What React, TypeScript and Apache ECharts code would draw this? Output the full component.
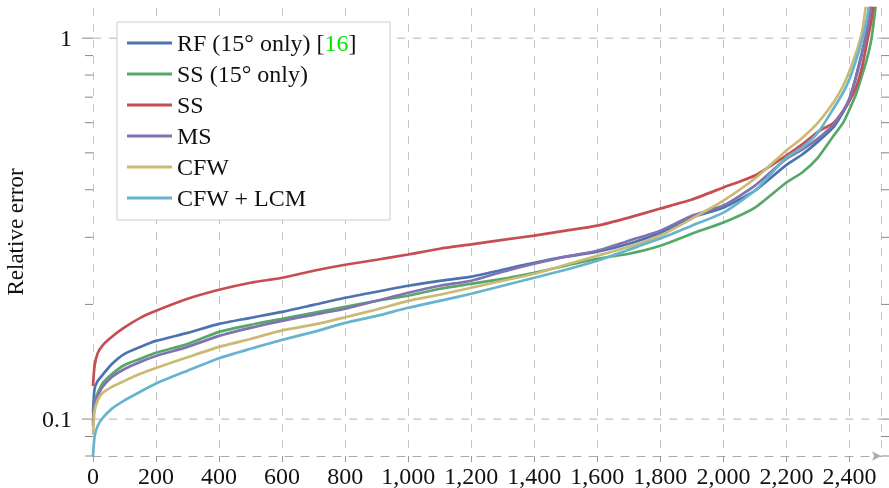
import React, { useEffect, useRef } from 'react';
import * as echarts from 'echarts';

// sample index (sorted test cases)
const xs = [0, 5, 15, 30, 60, 100, 150, 200, 300, 400, 500, 600, 700, 800, 900, 1000, 1100, 1200, 1300, 1400, 1500, 1600, 1700, 1800, 1900, 2000, 2100, 2200, 2250, 2300, 2350, 2380, 2400, 2420, 2440, 2455, 2470, 2485, 2500];

const rf15 = [0.104, 0.12, 0.126, 0.1305, 0.1395, 0.1483, 0.1547, 0.1604, 0.1684, 0.1778, 0.1844, 0.1912, 0.1995, 0.2082, 0.2159, 0.2239, 0.2307, 0.2365, 0.2467, 0.2573, 0.2669, 0.2751, 0.2887, 0.3086, 0.338, 0.359, 0.398, 0.465, 0.495, 0.535, 0.585, 0.64, 0.69, 0.79, 0.92, 1.04, 1.25, 1.55, 2.0];
const ss15 = [0.098, 0.111, 0.117, 0.124, 0.1313, 0.1387, 0.1439, 0.1493, 0.1575, 0.1694, 0.1768, 0.1833, 0.19, 0.1972, 0.2044, 0.2107, 0.2198, 0.2266, 0.2335, 0.2422, 0.2527, 0.2636, 0.2717, 0.2852, 0.3067, 0.328, 0.359, 0.418, 0.444, 0.486, 0.555, 0.6, 0.65, 0.71, 0.8, 0.88, 1.0, 1.25, 1.6];
const ss = [0.122, 0.138, 0.149, 0.156, 0.1645, 0.174, 0.1844, 0.1924, 0.2069, 0.2185, 0.228, 0.235, 0.2452, 0.2542, 0.262, 0.2705, 0.28, 0.2875, 0.2955, 0.303, 0.3124, 0.322, 0.338, 0.357, 0.377, 0.4055, 0.436, 0.492, 0.526, 0.568, 0.6, 0.645, 0.685, 0.74, 0.84, 0.97, 1.12, 1.4, 1.9];
const ms = [0.096, 0.11, 0.115, 0.1214, 0.129, 0.1354, 0.1413, 0.1465, 0.1547, 0.1654, 0.1736, 0.1811, 0.1878, 0.1948, 0.2044, 0.2146, 0.2239, 0.2307, 0.2437, 0.2557, 0.2669, 0.2767, 0.294, 0.3124, 0.342, 0.3635, 0.41, 0.483, 0.51, 0.545, 0.595, 0.645, 0.695, 0.785, 0.91, 1.04, 1.25, 1.55, 2.0];
const cfw = [0.091, 0.105, 0.112, 0.117, 0.1215, 0.126, 0.1315, 0.1362, 0.1453, 0.1547, 0.1623, 0.171, 0.177, 0.185, 0.194, 0.2044, 0.212, 0.2212, 0.2307, 0.2407, 0.2542, 0.2685, 0.2835, 0.303, 0.336, 0.3746, 0.428, 0.507, 0.547, 0.6, 0.68, 0.75, 0.82, 0.91, 1.04, 1.27, 1.6, 2.0, 2.5];
const cfwLcm = [0.08, 0.09, 0.096, 0.1005, 0.1065, 0.112, 0.118, 0.124, 0.134, 0.1445, 0.153, 0.1614, 0.1694, 0.1789, 0.1866, 0.196, 0.2044, 0.2133, 0.2239, 0.235, 0.2467, 0.2605, 0.2784, 0.2977, 0.322, 0.3483, 0.398, 0.486, 0.5166, 0.565, 0.655, 0.72, 0.78, 0.87, 0.99, 1.12, 1.35, 1.7, 2.1];

const seriesNames = ['RF (15° only) [16]', 'SS (15° only)', 'SS', 'MS', 'CFW', 'CFW + LCM'];
const seriesValues = [rf15, ss15, ss, ms, cfw, cfwLcm];
const seriesColors = ['#4c72b0', '#55a868', '#c44e52', '#8172b2', '#ccb974', '#64b5cd'];

const X_MIN = 0;
const X_MAX = 2500;
const X_INTERVAL = 200;
const Y_MIN = 0.08;
const Y_MAX = 1.2;
const yMajorTicks = [0.1, 1];
const yMinorTicks = [0.08, 0.09, 0.2, 0.3, 0.4, 0.5, 0.6, 0.7, 0.8, 0.9];

const FONT = "'Liberation Serif', 'Times New Roman', serif";

export default function App() {
  const ref = useRef<HTMLDivElement>(null);
  useEffect(() => {
    if (!ref.current) return;
    const chart = echarts.init(ref.current, undefined, { renderer: 'svg' });

    const lineSeries = seriesNames.map((name, i) => ({
      name,
      type: 'line',
      data: xs.map((x, j) => [x, seriesValues[i][j]]),
      showSymbol: false,
      symbol: 'none',
      smooth: 0.2,
      z: 2,
      lineStyle: { color: seriesColors[i], width: 2.7 },
      itemStyle: { color: seriesColors[i] },
    }));

    const tickData = [
      ...yMajorTicks.map((v) => [X_MIN, v, 1]),
      ...yMinorTicks.map((v) => [X_MIN, v, 0]),
    ];

    const option: any = {
      animation: false,
      grid: { left: 93, right: 8, top: 8, bottom: 32, containLabel: false, outerBoundsMode: 'none' },
      xAxis: {
        type: 'value',
        min: X_MIN,
        max: X_MAX,
        interval: X_INTERVAL,
        axisLine: {
          show: true,
          symbol: ['none', 'arrow'],
          symbolSize: [7, 9],
          lineStyle: { color: '#aaaaaa', type: [8, 8], width: 1 },
        },
        axisTick: { show: true, length: 6, lineStyle: { color: '#999999' } },
        axisLabel: {
          color: '#111',
          fontFamily: FONT,
          fontSize: 24,
          lineHeight: 22,
          margin: 9,
          showMaxLabel: false,
          formatter: (v: number) => String(v).replace(/\B(?=(\d{3})+(?!\d))/g, ','),
        },
        splitLine: { show: true, lineStyle: { color: '#c4c4c4', type: [8, 8], width: 1 } },
      },
      yAxis: {
        type: 'log',
        logBase: 10,
        min: Y_MIN,
        max: Y_MAX,
        axisLine: { show: false },
        axisTick: { show: false },
        splitLine: { show: false },
        axisLabel: {
          color: '#111',
          fontFamily: FONT,
          fontSize: 24,
          margin: 21,
          showMinLabel: false,
          showMaxLabel: false,
          formatter: (v: number) => {
            const l = Math.log10(v);
            return Math.abs(l - Math.round(l)) < 1e-6 ? String(+v.toPrecision(3)) : '';
          },
        },
        name: 'Relative error',
        nameLocation: 'middle',
        nameGap: 66,
        nameRotate: 90,
        nameTextStyle: { color: '#111', fontFamily: FONT, fontSize: 23 },
      },
      legend: {
        data: seriesNames,
        orient: 'vertical',
        left: 127,
        top: 31,
        padding: 0,
        itemGap: 7,
        itemWidth: 45,
        itemHeight: 3,
        icon: 'rect',
        z: 5,
        formatter: (name: string) => {
          const m = name.match(/^(.*\[)(\d+)(\])$/);
          return m ? `{n|${m[1]}}{g|${m[2]}}{n|${m[3]}}` : `{n|${name}}`;
        },
        textStyle: {
          color: '#111',
          fontFamily: FONT,
          fontSize: 24,
          lineHeight: 24,
          rich: {
            n: { color: '#111', fontFamily: FONT, fontSize: 24, lineHeight: 24 },
            g: { color: '#00e600', fontFamily: FONT, fontSize: 24, lineHeight: 24 },
          },
        },
      },
      graphic: [
        {
          type: 'rect',
          z: 3,
          shape: { x: 117, y: 22, width: 273, height: 198 },
          style: { fill: '#ffffff', stroke: '#cccccc', lineWidth: 1 },
        },
      ],
      series: [
        {
          type: 'custom',
          z: 1,
          silent: true,
          clip: false,
          data: tickData,
          encode: { x: 0, y: 1 },
          renderItem: (_params: any, api: any) => {
            const v = api.value(1);
            const major = api.value(2) === 1;
            const l = api.coord([X_MIN, v]);
            const r = api.coord([X_MAX, v]);
            const len = major ? 11 : 8;
            const children: any[] = [
              { type: 'line', shape: { x1: l[0] - len, y1: l[1], x2: l[0], y2: l[1] }, style: { stroke: '#888', lineWidth: 1 } },
              { type: 'line', shape: { x1: r[0], y1: r[1], x2: r[0] + 8, y2: r[1] }, style: { stroke: '#888', lineWidth: 1 } },
            ];
            if (major) {
              children.push({
                type: 'line',
                shape: { x1: l[0], y1: l[1], x2: r[0], y2: r[1] },
                style: { stroke: '#b4b4b4', lineWidth: 1, lineDash: [8, 8] },
              });
            }
            return { type: 'group', children };
          },
        },
        ...lineSeries,
      ],
    };
    chart.setOption(option);
    return () => chart.dispose();
  }, []);
  return <div ref={ref} style={{ position: 'fixed', left: 0, top: 0, width: 889, height: 488 }} />;
}
